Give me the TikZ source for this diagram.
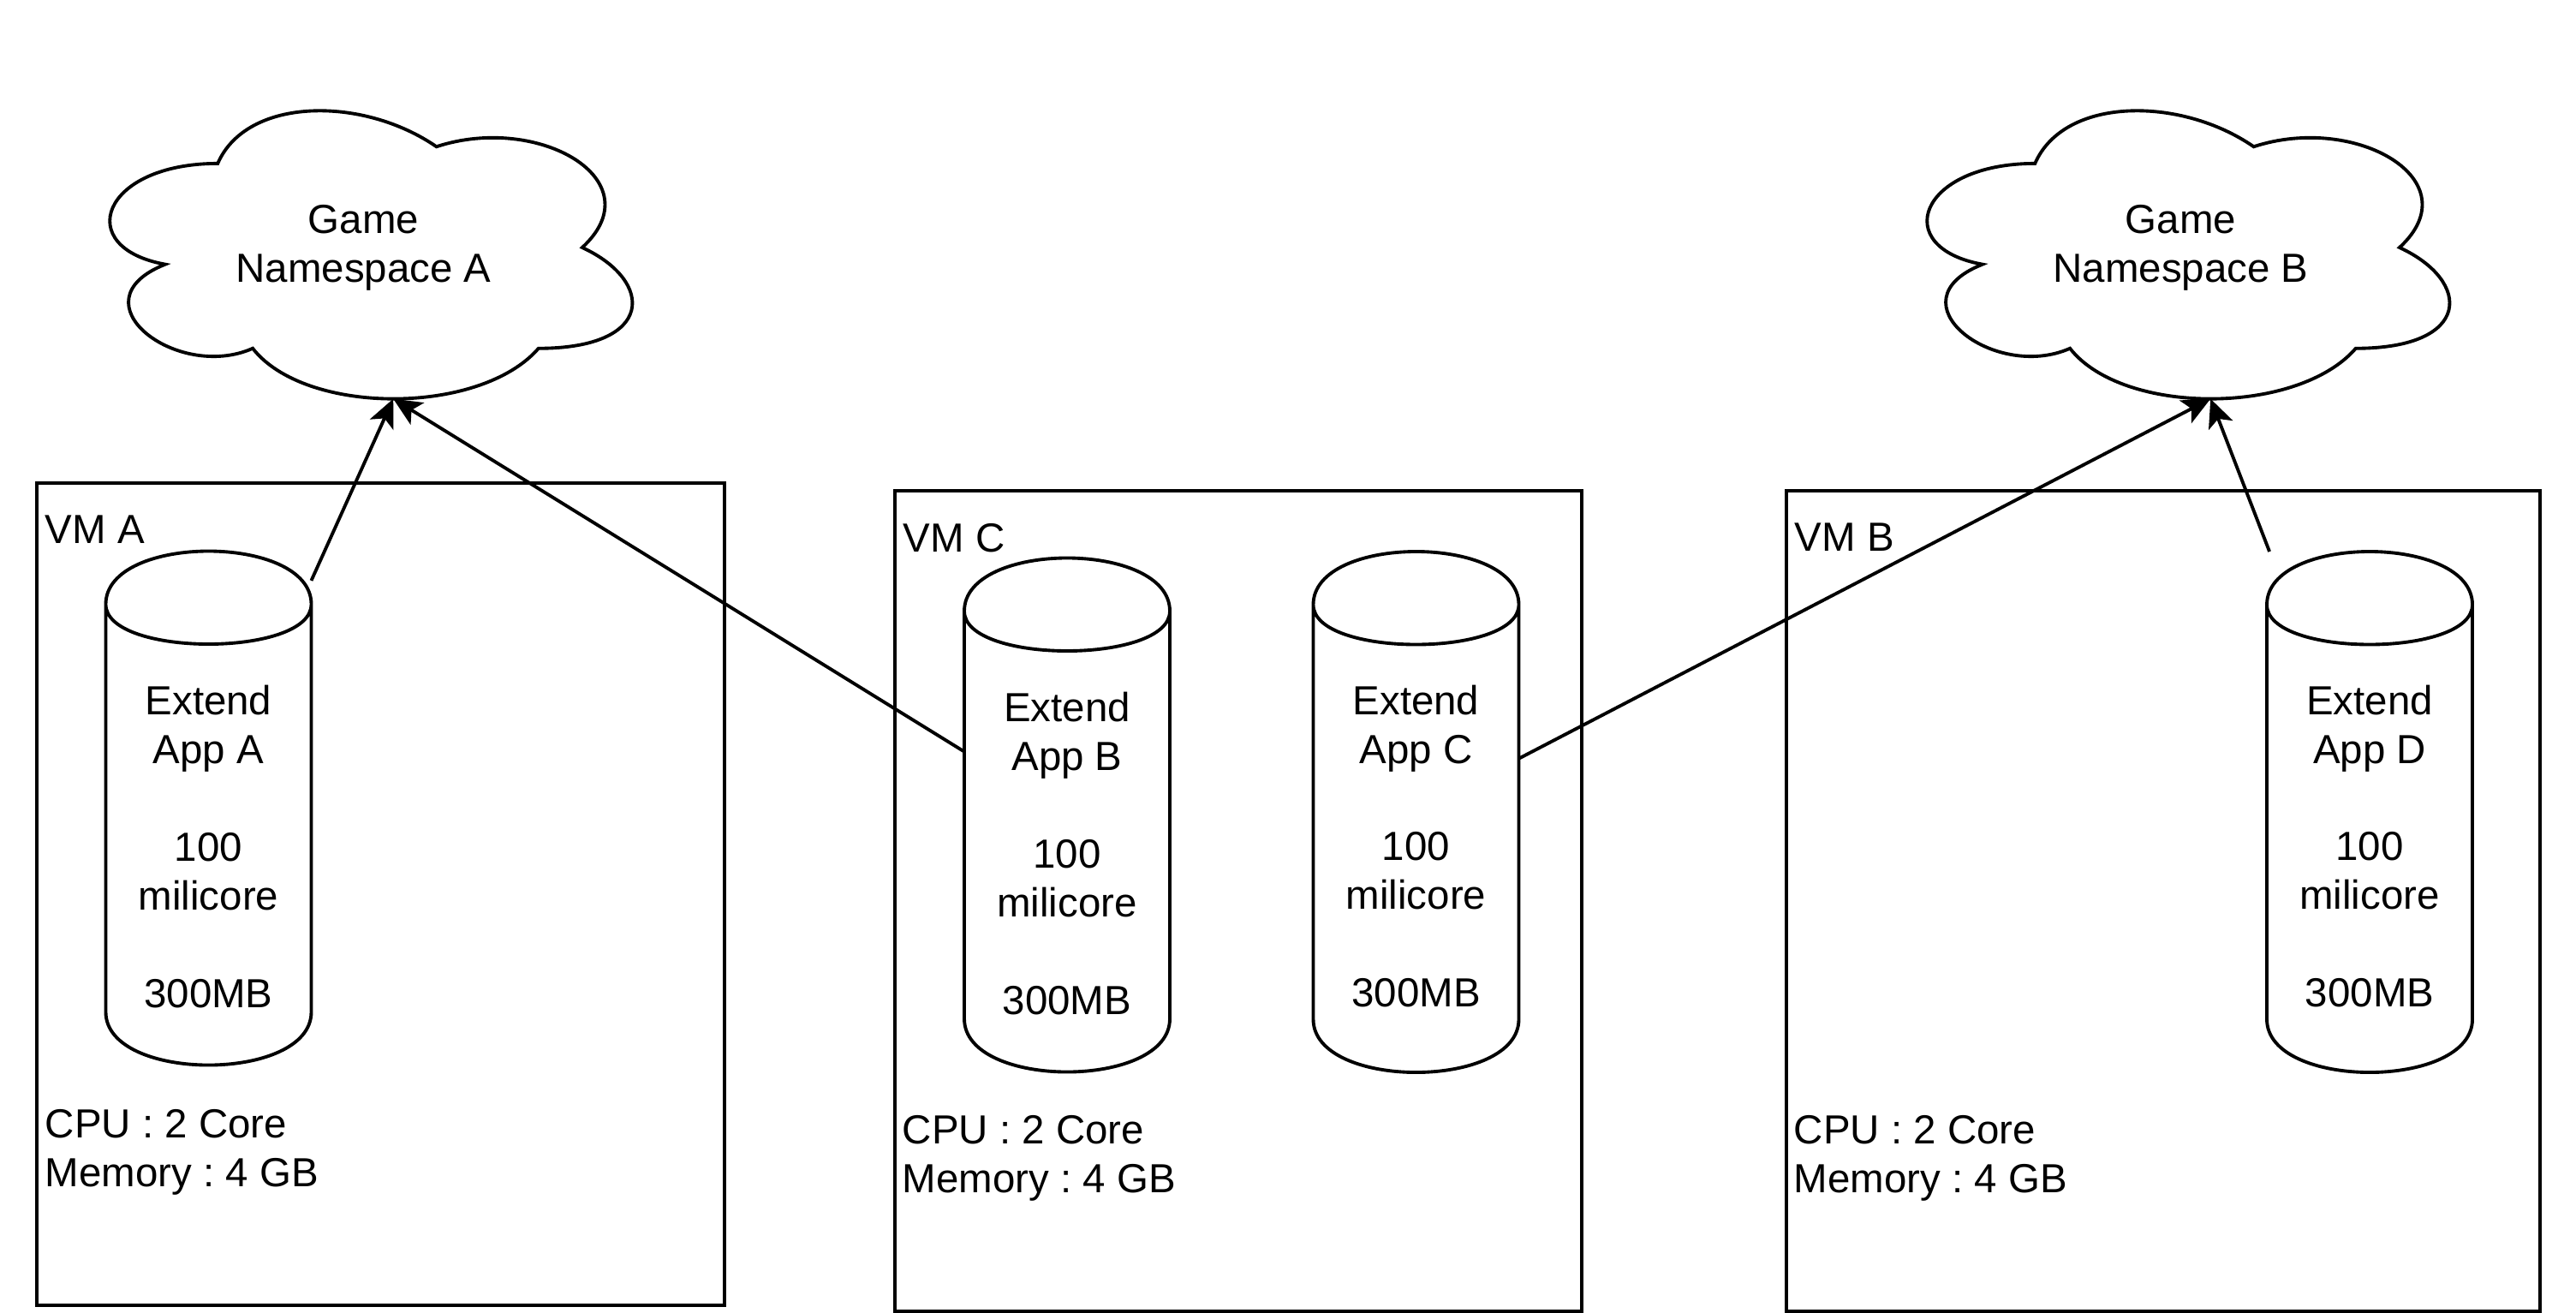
\documentclass[tikz,border=0pt]{standalone}
\usepackage{fontspec}
\setmainfont{Liberation Sans}
\usepackage{tikz}
\usetikzlibrary{positioning}
\usetikzlibrary{arrows.meta}
\frenchspacing
\newcommand{\nscloud}[1]{%
 \draw[shift={(#1.north west)},x=6.81cm,y=-3.925cm] (0.25,0.25) .. controls (0.05,0.25) and (0,0.5) .. (0.16,0.55)
  .. controls (0,0.66) and (0.18,0.9) .. (0.31,0.8) .. controls (0.4,1) and (0.7,1) .. (0.8,0.8)
  .. controls (1,0.8) and (1,0.6) .. (0.875,0.5) .. controls (1,0.3) and (0.8,0.1) .. (0.625,0.2)
  .. controls (0.5,0.05) and (0.3,0.05) .. (0.25,0.25) -- cycle;
 \path[shift={(#1.north west)},x=6.81cm,y=-3.925cm] (0.551,0.95) coordinate (#1-foot);}
\newcommand{\appcyl}[1]{%
 \draw ([yshift=-6.2mm]#1.north west) .. controls ([yshift=2.07mm]#1.north west) and ([yshift=2.07mm]#1.north east) .. ([yshift=-6.2mm]#1.north east)
  -- ([yshift=6.2mm]#1.south east) .. controls ([yshift=-2.07mm]#1.south east) and ([yshift=-2.07mm]#1.south west) .. ([yshift=6.2mm]#1.south west) -- cycle
  ([yshift=-6.2mm]#1.north west) .. controls ([yshift=-12.4mm]#1.north west) and ([yshift=-12.4mm]#1.north east) .. ([yshift=-6.2mm]#1.north east);}

\begin{document}
\begin{tikzpicture}[line width=1.1pt, font=\fontsize{13.5}{16.2}\selectfont,
 vm/.style={draw, rectangle, inner sep=0pt, outer sep=0pt},
 vmtext/.style={inner sep=0pt, align=left},
 app/.style={rectangle, minimum width=2.4cm, inner sep=0pt, outer sep=0pt},
 apptext/.style={align=center, inner sep=0pt, yshift=-4.5mm},
 gamens/.style={minimum width=6.81cm, minimum height=3.925cm, align=center, inner sep=0pt, outer sep=0pt},
 link/.style={-{Stealth[length=3.3mm,width=3mm,inset=0.8mm]}}]
 \useasboundingbox (0,0) rectangle (30.08,-15.32);

 \node[gamens] (nsA) at (4.245,-2.89) {Game\\Namespace A};
 \node[gamens] (nsB) at (25.465,-2.89) {Game\\Namespace B};
 \nscloud{nsA}
 \nscloud{nsB}

 \node[vm, minimum width=8.03cm, minimum height=9.6cm] (vmA) at (4.445,-10.44) {};
 \node[vm, minimum width=8.02cm, minimum height=9.58cm] (vmC) at (14.46,-10.52) {};
 \node[vm, minimum width=8.8cm, minimum height=9.58cm] (vmB) at (25.26,-10.52) {};
 \node[vmtext, below right=0.36cm and 0.08cm of vmA.north west] (vmA-name) {VM A};
 \node[vmtext, below right=0.36cm and 0.08cm of vmC.north west] (vmC-name) {VM C};
 \node[vmtext, below right=0.36cm and 0.08cm of vmB.north west] (vmB-name) {VM B};
 \node[vmtext, below right=7.29cm and 0.08cm of vmA.north west] (vmA-spec) {CPU : 2 Core\\Memory : 4 GB};
 \node[vmtext, below right=7.27cm and 0.07cm of vmC.north west] (vmC-spec) {CPU : 2 Core\\Memory : 4 GB};
 \node[vmtext, below right=7.27cm and 0.07cm of vmB.north west] (vmB-spec) {CPU : 2 Core\\Memory : 4 GB};

 \node[app, minimum height=6cm, label={[apptext]center:{Extend\\App A\\[16.2pt]100\\milicore\\[16.2pt]300MB}}] (appA) at (2.435,-9.435) {};
 \node[app, minimum height=6cm, label={[apptext]center:{Extend\\App B\\[16.2pt]100\\milicore\\[16.2pt]300MB}}] (appB) at (12.46,-9.515) {};
 \node[app, minimum height=6.08cm, label={[apptext, yshift=0.5mm]center:{Extend\\App C\\[16.2pt]100\\milicore\\[16.2pt]300MB}}] (appC) at (16.535,-9.48) {};
 \node[app, minimum height=6.08cm, label={[apptext, yshift=0.5mm]center:{Extend\\App D\\[16.2pt]100\\milicore\\[16.2pt]300MB}}] (appD) at (27.67,-9.48) {};
 \appcyl{appA}
 \appcyl{appB}
 \appcyl{appC}
 \appcyl{appD}

 \draw[link] (appA) -- (nsA-foot);
 \draw[link] (appB) -- (nsA-foot);
 \draw[link] (appC) -- (nsB-foot);
 \draw[link] (appD) -- (nsB-foot);
\end{tikzpicture}
\end{document}
